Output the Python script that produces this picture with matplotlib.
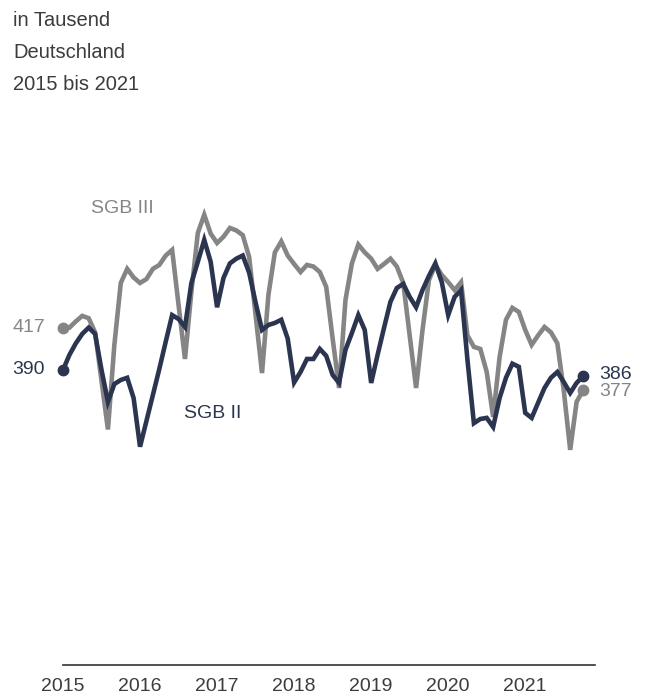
import numpy as np
import matplotlib
matplotlib.use("Agg")
import matplotlib.pyplot as plt

plt.rcParams['font.family'] = ['Liberation Sans', 'DejaVu Sans']

# monthly values in thousand, Jan 2015 .. Oct 2021
sgb3 = [417, 417, 421, 424.5, 423, 414, 383, 352, 406, 445.5, 454.5, 449,
        445.5, 448, 454.5, 457, 463, 466.6, 431.5, 397, 440, 477.4, 489, 477,
        471, 475, 480.6, 479, 476, 462, 425, 388, 438, 465, 472, 463,
        457.6, 452.5, 457, 456, 452.5, 443, 410, 378.5, 434.7, 458, 470, 465,
        461, 454.5, 457.6, 461, 456, 445.5, 412, 378.5, 415.5, 447.4, 457, 450.6,
        446, 441, 446, 412, 404.7, 403.4, 388.7, 360, 398, 422, 429.6, 427,
        415.5, 406, 412, 417.4, 414, 407, 377, 339, 369.6, 377]
sgb2 = [390, 399.6, 407, 413, 417, 413, 390, 369.6, 381, 383.6, 385, 372,
        341, 357.5, 374, 390.6, 408, 425, 422.5, 417.4, 445.5, 459, 473, 459,
        430, 448.7, 458, 461, 463, 452, 433, 415.5, 418.7, 420, 422, 410,
        382, 388.7, 397, 397, 403.4, 399, 386.8, 381.7, 402.8, 413.6, 425, 415.5,
        381.7, 399.6, 416.8, 433.4, 442.3, 444.9, 436.6, 430, 441, 450, 458, 446,
        425, 436.6, 441, 396.4, 356, 358.7, 359.4, 353.6, 372, 385, 394, 392,
        362.6, 359.4, 369, 378.5, 385, 388.7, 382.3, 375.3, 381.7, 386]
years = [2015, 2016, 2017, 2018, 2019, 2020, 2021]
title_lines = ["in Tausend", "Deutschland", "2015 bis 2021"]

gray = "#858585"
navy = "#2c3550"
txt = "#3c3c3c"

W, H = 645, 695
fig = plt.figure(figsize=(W / 100, H / 100), dpi=100)

# axes placed in pixel terms: x 63..595, baseline at y=665
x0, x1 = 63, 595
ylo, yhi = 201.7, 531.7
yb = 665
yt = yb - (yhi - ylo) * 1.567
ax = fig.add_axes([x0 / W, (H - yb) / H, (x1 - x0) / W, (yb - yt) / H])

months = np.arange(len(sgb3))
ax.plot(months, sgb3, color=gray, lw=3.3, solid_joinstyle='miter', zorder=2)
ax.plot(months, sgb2, color=navy, lw=3.3, solid_joinstyle='miter', zorder=3)
for s, c in [(sgb3, gray), (sgb2, navy)]:
    ax.plot([0, len(s) - 1], [s[0], s[-1]], 'o', color=c, ms=7.5, zorder=4,
            clip_on=False)

ax.set_xlim(0, 532 / 6.42)
ax.set_ylim(ylo, yhi)

for sp in ['top', 'right', 'left']:
    ax.spines[sp].set_visible(False)
ax.spines['bottom'].set_color("#333333")
ax.spines['bottom'].set_linewidth(1.2)
ax.set_yticks([])
ax.set_xticks([12 * i for i in range(len(years))])
ax.set_xticklabels([str(y) for y in years], fontsize=14, color=txt)
ax.tick_params(axis='x', length=0, pad=9.5)

# end value labels
ax.annotate(f"{sgb3[0]:.0f}", (0, sgb3[0]), xytext=(-13, 0), textcoords='offset points',
            ha='right', va='center', fontsize=14, color=gray, annotation_clip=False)
ax.annotate(f"{sgb2[0]:.0f}", (0, sgb2[0]), xytext=(-13, 0), textcoords='offset points',
            ha='right', va='center', fontsize=14, color=navy, annotation_clip=False)
ax.annotate(f"{sgb2[-1]:.0f}", (len(sgb2) - 1, sgb2[-1]), xytext=(12, 1.5), textcoords='offset points',
            ha='left', va='center', fontsize=14, color=navy, annotation_clip=False)
ax.annotate(f"{sgb3[-1]:.0f}", (len(sgb3) - 1, sgb3[-1]), xytext=(12, -0.8), textcoords='offset points',
            ha='left', va='center', fontsize=14, color=gray, annotation_clip=False)

# series names
ax.text(4.4, 493, "SGB III", fontsize=14, color=gray, ha='left', va='center')
ax.text(18.9, 362, "SGB II", fontsize=14, color=navy, ha='left', va='center')

for k, line in enumerate(title_lines):
    fig.text(13 / W, 1 - (21 + 32 * k) / H, line, fontsize=14.5, color=txt,
             ha='left', va='center')

fig.savefig("out.png", dpi=100)
